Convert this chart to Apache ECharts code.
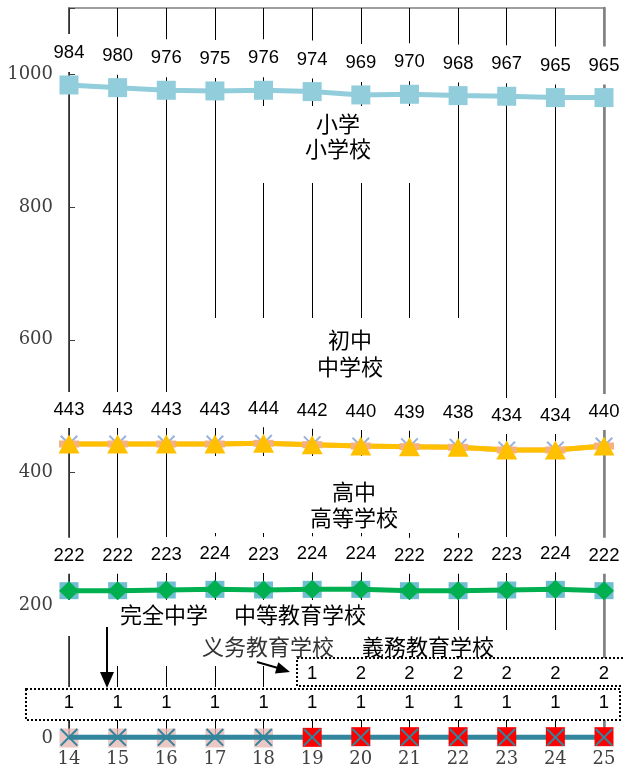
<!DOCTYPE html>
<html><head><meta charset="utf-8">
<script src="https://cdn.jsdelivr.net/npm/echarts@6/dist/echarts.min.js"></script>
<style>html,body{margin:0;padding:0;background:#fff}#c{width:623px;height:770px}</style>
</head><body><div id="c"></div>
<script>
const years = ['14','15','16','17','18','19','20','21','22','23','24','25'];
const yTicks = [0,200,400,600,800,1000];
const elementary = [984,980,976,975,976,974,969,970,968,967,965,965];
const juniorHigh = [443,443,443,443,444,442,440,439,438,434,434,440];
const seniorHigh = [222,222,223,224,223,224,224,222,222,223,224,222];
const secondaryEdu = [1,1,1,1,1,1,1,1,1,1,1,1];
const compulsoryEdu = [null,null,null,null,null,1,2,2,2,2,2,2];
const compulsoryNone = [0,0,0,0,0,null,null,null,null,null,null,null];

const XPATH = 'path://M0,0.8L0.8,0L5,4.2L9.2,0L10,0.8L5.8,5L10,9.2L9.2,10L5,5.8L0.8,10L0,9.2L4.2,5Z';
const NUMFONT = 'Liberation Sans, Arial, sans-serif';
const JP = 'Noto Sans CJK JP';
const SC = 'Noto Sans CJK SC';

function lbl(dist, pad, bg) {
  return {show:true, position:'top', distance:dist, color:'#000', fontSize:18.5,
    fontFamily:NUMFONT, lineHeight:18,
    backgroundColor: bg ? '#fff' : 'transparent', padding: pad};
}

const chart = echarts.init(document.getElementById('c'), null, {renderer:'canvas'});

function txt(s, x, y, font, color) {
  return {type:'text', x:x, y:y, z:5,
    style:{text:s, fill:color||'#000', font:'22px "'+font+'"', textAlign:'center', textVerticalAlign:'middle'}};
}
function box(x, y, w, h) {
  return {type:'rect', z:1, shape:{x:x, y:y, width:w, height:h}, style:{fill:'#fff'}};
}

const graphics = [
  box(230, 106, 215, 77),
  box(180, 318, 310, 82),
  box(180, 456, 310, 77),
  box(62, 600, 383, 36),
  box(80, 630, 500, 36),
  box(297, 658, 340, 29),
  box(26, 687, 594, 33),
  {type:'rect', z:4, shape:{x:297, y:658, width:340, height:28},
    style:{fill:'rgba(0,0,0,0)', stroke:'#000', lineWidth:2, lineDash:[2,2]}},
  {type:'rect', z:4, shape:{x:26, y:689, width:594, height:31},
    style:{fill:'rgba(0,0,0,0)', stroke:'#000', lineWidth:2, lineDash:[2,2]}},
  txt('小学', 338, 124, SC),
  txt('小学校', 338, 149, JP),
  txt('初中', 350, 340, SC),
  txt('中学校', 350, 367, JP),
  txt('高中', 354, 492, SC),
  txt('高等学校', 354, 518, JP),
  txt('完全中学', 164, 615, SC),
  txt('中等教育学校', 300, 615, JP),
  txt('义务教育学校', 268, 647, SC, '#333'),
  txt('義務教育学校', 428, 647, JP),
  {type:'line', z:5, shape:{x1:107, y1:627, x2:107, y2:674}, style:{stroke:'#000', lineWidth:2}},
  {type:'polygon', z:5, shape:{points:[[100,672],[114,672],[107,688]]}, style:{fill:'#000'}},
  {type:'line', z:5, shape:{x1:257, y1:662, x2:278, y2:668}, style:{stroke:'#000', lineWidth:2}},
  {type:'polygon', z:5, shape:{points:[[290,672],[274.9,673.6],[278.3,662.2]]}, style:{fill:'#000'}}
];

const option = {
  animation:false,
  backgroundColor:'#fff',
  grid:{left:69, right:19, top:8, bottom:32, show:true, borderColor:'#808080', borderWidth:1.5, backgroundColor:'rgba(0,0,0,0)'},
  xAxis:{type:'category', data:years, boundaryGap:false,
    axisLine:{show:false}, axisTick:{show:false},
    axisLabel:{interval:0, fontFamily:'DejaVu Serif', fontSize:18, color:'#404040', margin:12},
    splitLine:{show:true, interval:0, lineStyle:{color:'#000', width:1}}},
  yAxis:[{type:'value', min:0, max:1100, interval:200,
    axisLine:{show:true, lineStyle:{color:'#404040', width:1.5}},
    axisTick:{show:true, inside:true, length:6, lineStyle:{color:'#404040', width:1}},
    axisLabel:{fontFamily:'DejaVu Serif', fontSize:18, color:'#404040', margin:16,
      formatter:function(v){return yTicks.indexOf(v) >= 0 ? String(v) : '';}},
    splitLine:{show:false}},
   {type:'value', min:0, max:1100, position:'right',
    axisLine:{show:true, lineStyle:{color:'#7f7f7f', width:2.5}},
    axisTick:{show:false}, axisLabel:{show:false}, splitLine:{show:false}}],
  graphic:graphics,
  series:[
    {name:'中学 base', type:'line', data:juniorHigh, symbol:'rect', symbolSize:[20,7],
      itemStyle:{color:'#F4B183'}, lineStyle:{color:'#F4B183', width:5}},
    {name:'初中', type:'scatter', data:juniorHigh, symbol:XPATH, symbolSize:18,
      itemStyle:{color:'#7F9FD6'}},
    {name:'中学校', type:'line', data:juniorHigh, symbol:'triangle', symbolSize:[21,19],
      itemStyle:{color:'#FFC000'}, lineStyle:{color:'#FFC000', width:5},
      label:lbl(6.5, [9,2], true)},
    {name:'高中', type:'scatter', data:seniorHigh, symbol:'rect', symbolSize:[19,17],
      itemStyle:{color:'#4BACC6'}},
    {name:'高等学校', type:'line', data:seniorHigh, symbol:'diamond', symbolSize:[20,19],
      itemStyle:{color:'#00B050'}, lineStyle:{color:'#00B050', width:5},
      label:lbl(7.5, [9,2], true)},
    {name:'小学校', type:'line', data:elementary, symbol:'rect', symbolSize:[19,19],
      itemStyle:{color:'#92CDDC'}, lineStyle:{color:'#92CDDC', width:5},
      label:lbl(3.5, [10,1], true)},
    {name:'義務教育学校 none', type:'scatter', data:compulsoryNone, symbol:'rect', symbolSize:19,
      itemStyle:{color:'#E6B9B8'}},
    {name:'義務教育学校', type:'line', data:compulsoryEdu, symbol:'rect', symbolSize:19,
      itemStyle:{color:'#FF0000'}, lineStyle:{color:'#FF0000', width:1.5},
      label:lbl(44.5, 0, false)},
    {name:'中等教育学校', type:'line', data:secondaryEdu, symbol:XPATH, symbolSize:18,
      itemStyle:{color:'#31859C'}, lineStyle:{color:'#31859C', width:5},
      label:lbl(16, 0, false)}
  ]
};
chart.setOption(option);
</script>
</body></html>
